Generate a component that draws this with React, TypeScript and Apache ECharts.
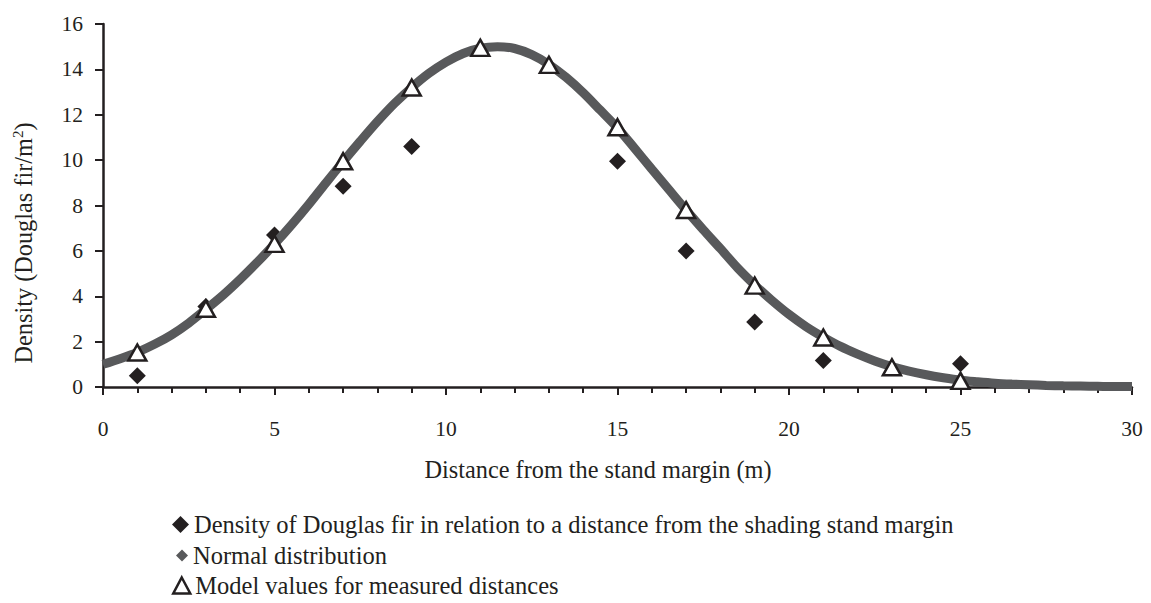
import React, { useEffect, useRef } from "react";
import * as echarts from "echarts";

// ---- Data ----
const densityX = [1, 3, 5, 7, 9, 15, 17, 19, 21, 25];
const densityValues = [0.5, 3.55, 6.7, 8.85, 10.6, 9.95, 6.0, 2.87, 1.17, 1.02];

const modelX = [1, 3, 5, 7, 9, 11, 13, 15, 17, 19, 21, 23, 25];
const modelValues = [1.52, 3.45, 6.31, 9.95, 13.2, 14.95, 14.2, 11.45, 7.8, 4.47, 2.18, 0.87, 0.27];

const normalX = [
  0, 0.5, 1, 1.5, 2, 2.5, 3, 3.5, 4, 4.5, 5, 5.5, 6, 6.5, 7, 7.5, 8, 8.5, 9, 9.5,
  10, 10.5, 11, 11.5, 12, 12.5, 13, 13.5, 14, 14.5, 15, 15.5, 16, 16.5, 17, 17.5,
  18, 18.5, 19, 19.5, 20, 20.5, 21, 21.5, 22, 22.5, 23, 23.5, 24, 24.5, 25, 25.5,
  26, 26.5, 27, 27.5, 28, 28.5, 29, 29.5, 30,
];
const normalValues = [
  1.0, 1.25, 1.53, 1.88, 2.3, 2.82, 3.42, 4.05, 4.75, 5.5, 6.3, 7.15, 8.05, 9.0, 9.93,
  10.83, 11.7, 12.5, 13.2, 13.82, 14.32, 14.7, 14.93, 15.0, 14.92, 14.65, 14.22, 13.65,
  12.97, 12.2, 11.42, 10.52, 9.6, 8.7, 7.8, 6.93, 6.1, 5.25, 4.5, 3.82, 3.2, 2.66, 2.2,
  1.79, 1.45, 1.15, 0.9, 0.7, 0.54, 0.41, 0.3, 0.23, 0.17, 0.13, 0.1, 0.07, 0.05, 0.04,
  0.03, 0.02, 0.02,
];

const xTicks = { min: 0, max: 30, interval: 5 };
const yTicks = { min: 0, max: 16, interval: 2 };

const S1 = "Density of Douglas fir in relation to a distance from the shading stand margin";
const S2 = "Normal distribution";
const S3 = "Model values for measured distances";
const X_NAME = "Distance from the stand margin (m)";

const INK = "#231f20";
const CURVE = "#58595b";
const FONT = "'Liberation Serif', 'Times New Roman', serif";

export default function App() {
  const ref = useRef<HTMLDivElement>(null);

  useEffect(() => {
    document.body.style.margin = "0";
    if (!ref.current) return;
    const chart = echarts.init(ref.current, null, { renderer: "svg" });

    const legendText = { fontSize: 24.5, color: INK, fontFamily: FONT, lineHeight: 24 };

    chart.setOption({
      animation: false,
      textStyle: { fontFamily: FONT, color: INK },
      grid: { left: 103, right: 19, top: 24, bottom: 216, containLabel: false },
      xAxis: {
        type: "value",
        min: xTicks.min,
        max: xTicks.max,
        interval: xTicks.interval,
        axisLine: { show: true, onZero: false, lineStyle: { color: INK, width: 2.5 } },
        axisTick: { show: true, inside: false, length: 8, lineStyle: { color: INK, width: 2 } },
        minorTick: { show: true, splitNumber: 5, length: 6, lineStyle: { color: INK, width: 2 } },
        splitLine: { show: false },
        axisLabel: { fontSize: 21.5, color: INK, fontFamily: FONT, margin: 31 },
      },
      yAxis: {
        type: "value",
        min: yTicks.min,
        max: yTicks.max,
        interval: yTicks.interval,
        axisLine: { show: true, lineStyle: { color: INK, width: 2.5 } },
        axisTick: { show: true, inside: false, length: 8, lineStyle: { color: INK, width: 2 } },
        splitLine: { show: false },
        axisLabel: { fontSize: 21.5, color: INK, fontFamily: FONT, margin: 20 },
      },
      legend: [
        {
          left: 172,
          top: 512,
          padding: 0,
          itemWidth: 17,
          itemHeight: 17,
          selectedMode: false,
          textStyle: legendText,
          data: [{ name: S1, icon: "diamond", itemStyle: { color: INK, opacity: 1 } }],
        },
        {
          left: 176,
          top: 543,
          padding: 0,
          itemWidth: 12,
          itemHeight: 12,
          selectedMode: false,
          textStyle: legendText,
          data: [{ name: S2, icon: "diamond", itemStyle: { color: CURVE, opacity: 1 } }],
        },
        {
          left: 172,
          top: 573,
          padding: 0,
          itemWidth: 17,
          itemHeight: 16,
          selectedMode: false,
          textStyle: legendText,
          data: [
            {
              name: S3,
              icon: "triangle",
              itemStyle: { color: "#ffffff", borderColor: INK, borderWidth: 2.5, opacity: 1 },
            },
          ],
        },
      ],
      graphic: [
        {
          type: "text",
          x: 598,
          y: 469,
          style: {
            text: X_NAME,
            fill: INK,
            fontSize: 24.3,
            fontFamily: FONT,
            textAlign: "center",
            textVerticalAlign: "middle",
          },
        },
        {
          type: "text",
          x: 23,
          y: 243,
          rotation: Math.PI / 2,
          style: {
            text: "{n|Density (Douglas fir/m}{s|2}{n|)}",
            fill: INK,
            fontFamily: FONT,
            textAlign: "center",
            textVerticalAlign: "middle",
            rich: {
              n: { fontSize: 24.3, fontFamily: FONT, fill: INK, lineHeight: 25 },
              s: { fontSize: 15, fontFamily: FONT, fill: INK, verticalAlign: "top", lineHeight: 15 },
            },
          },
        },
      ],
      series: [
        {
          name: S1,
          type: "scatter",
          z: 2,
          symbol: "diamond",
          symbolSize: 17,
          itemStyle: { color: INK, opacity: 1 },
          data: densityX.map((x, i) => [x, densityValues[i]]),
        },
        {
          name: S2,
          type: "line",
          z: 3,
          color: CURVE,
          symbol: "none",
          smooth: 0.3,
          lineStyle: { color: CURVE, width: 9 },
          itemStyle: { color: CURVE },
          data: normalX.map((x, i) => [x, normalValues[i]]),
        },
        {
          name: S3,
          type: "scatter",
          z: 4,
          symbol: "triangle",
          symbolSize: [18, 16],
          itemStyle: { color: "#ffffff", borderColor: INK, borderWidth: 2.5, opacity: 1 },
          data: modelX.map((x, i) => [x, modelValues[i]]),
        },
      ],
    });

    return () => chart.dispose();
  }, []);

  return <div ref={ref} style={{ width: 1151, height: 603 }} />;
}
